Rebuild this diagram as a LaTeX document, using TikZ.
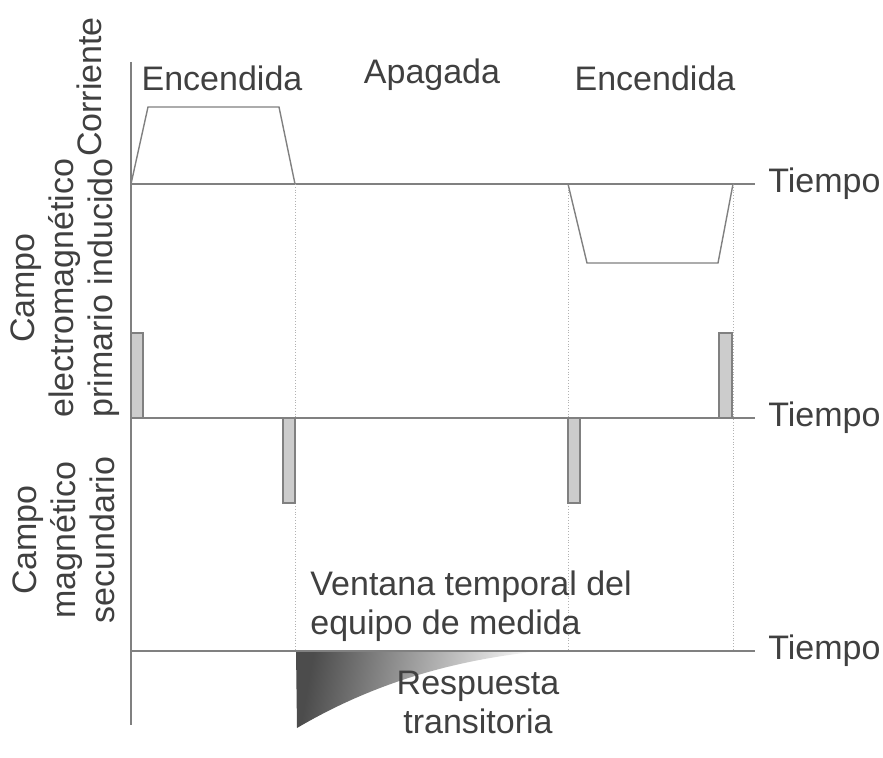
\documentclass[tikz,border=0pt]{standalone}
\usepackage{fontspec}
\setmainfont{Liberation Sans}
\definecolor{axisgray}{gray}{0.5}
\definecolor{textgray}{gray}{0.25}
\definecolor{barfill}{gray}{0.8}

\begin{document}
\begin{tikzpicture}[x=0.5pt,y=-0.5pt,
    axis/.style={draw=axisgray, line width=0.7pt},
    guide/.style={draw=gray!60, densely dotted, line width=0.4pt},
    pulse/.style={draw=axisgray, line width=0.7pt},
    bar/.style={draw=axisgray, fill=barfill, line width=0.7pt},
    lbl/.style={text=textgray, font=\fontsize{17}{19.5}\selectfont, inner sep=0pt},
    timelbl/.style={lbl, anchor=west, inner xsep=6.5pt}]
        \useasboundingbox (0,0) rectangle (883,758);
        %coordinates
            \coordinate (top) at (131,62);
            \coordinate (bottom) at (131,725);
            \coordinate (o1) at (131,184);
            \coordinate (o2) at (131,418);
            \coordinate (o3) at (131,651);
        %time axes
            \node[timelbl] (t1) at (755,184) {Tiempo};
            \node[timelbl] (t2) at (755,418) {Tiempo};
            \node[timelbl] (t3) at (755,651) {Tiempo};
        %transient response
            \coordinate (r0) at (296,651);
            \coordinate (r1) at (297,728);
            \coordinate (r2) at (542,651);
            \shade[left color=black!70, right color=white, shading angle=80] (r0) -- (r1)
                .. controls (370,685) and (450,660) .. (r2) -- cycle;
        % lines
            \draw[axis] (top) -- (bottom);
            \draw[axis] (o1) -- (t1.west);
            \draw[axis] (o2) -- (t2.west);
            \draw[axis] (o3) -- (t3.west);
        %switching instants
            \coordinate (off1) at (295,184);
            \coordinate (on2) at (568,184);
            \coordinate (off2) at (733,184);
            \draw[guide] (off1) -- (off1 |- o3);
            \draw[guide] (on2) -- (on2 |- o3);
            \draw[guide] (off2) -- (off2 |- o3);
        %current
            \draw[pulse] (o1) -- (148,107) -- (279,107) -- (off1);
            \draw[pulse] (on2) -- (587,263) -- (718,263) -- (off2);
        %induced field
            \draw[bar] (131,333) rectangle (143,418);
            \draw[bar] (283,418) rectangle (295,503);
            \draw[bar] (568,418) rectangle (580,503);
            \draw[bar] (719,333) rectangle (732,418);
        %nodes
            \node[lbl, anchor=base] (enc1) at (222,91) {Encendida};
            \node[lbl, anchor=base] (apag) at (432,84) {Apagada};
            \node[lbl, anchor=base] (enc2) at (655,91) {Encendida};
            \node[lbl, rotate=90] (corr) at (89,87) {Corriente};
            \node[lbl, rotate=90, align=center] (prim) at (65,288) {Campo\\electromagnético\\primario inducido};
            \node[lbl, rotate=90, align=center] (sec) at (64,540) {Campo\\magnético\\secundario};
            \node[lbl, align=left, anchor=west] (vent) at (310,606) {Ventana temporal del\\equipo de medida};
            \node[lbl, align=center] (resp) at (478,702) {Respuesta\\transitoria};
\end{tikzpicture}
\end{document}
